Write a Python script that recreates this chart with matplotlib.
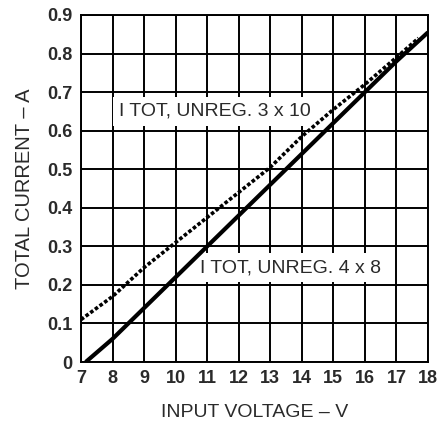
import matplotlib.pyplot as plt

plt.rcParams['font.family'] = ['Liberation Sans', 'DejaVu Sans']

# curve data
v_4x8 = [7.15, 8, 9, 10, 11, 12, 13, 14, 15, 16, 17, 18]
i_4x8 = [0.0, 0.06, 0.14, 0.22, 0.30, 0.38, 0.46, 0.54, 0.62, 0.70, 0.78, 0.855]
v_3x10 = [7, 8, 9, 10, 11, 12, 13, 14, 15, 16, 17, 17.7]
i_3x10 = [0.11, 0.17, 0.245, 0.31, 0.375, 0.44, 0.505, 0.585, 0.655, 0.72, 0.79, 0.84]

x_ticks = list(range(7, 19))
y_ticks = [0, 0.1, 0.2, 0.3, 0.4, 0.5, 0.6, 0.7, 0.8, 0.9]
y_tick_labels = ['0', '0.1', '0.2', '0.3', '0.4', '0.5', '0.6', '0.7', '0.8', '0.9']

fig = plt.figure(figsize=(4.46, 4.26), dpi=100)
ax = fig.add_axes([0.1816, 0.1502, 0.778, 0.8146])

# grid drawn as plain lines so the label boxes can sit on top of it
ax.vlines(x_ticks, 0, 0.9, color='black', lw=1.4, zorder=1)
ax.hlines(y_ticks, 7, 18, color='black', lw=1.4, zorder=1)

ax.plot(v_4x8, i_4x8, color='black', lw=3.0, solid_capstyle='butt', zorder=5)
ax.plot(v_3x10, i_3x10, color='black', lw=2.6, linestyle=(0, (1.0, 0.6)), zorder=5)

box = dict(facecolor='white', edgecolor='none', pad=4)
ax.text(8.2, 0.65, 'I TOT, UNREG. 3 x 10', fontsize=14, color='#2a2a2a',
        va='center', bbox=box, zorder=4)
ax.text(10.78, 0.245, 'I TOT, UNREG. 4 x 8', fontsize=14, color='#2a2a2a',
        va='center', bbox=box, zorder=4)

ax.set_xlim(7, 18)
ax.set_ylim(0, 0.9)
ax.set_xticks(x_ticks)
ax.set_yticks(y_ticks)
ax.set_yticklabels(y_tick_labels)
ax.tick_params(length=0, labelsize=13, labelcolor='#2a2a2a', pad=6)
for lab in ax.get_xticklabels() + ax.get_yticklabels():
    lab.set_fontweight('bold')
for s in ax.spines.values():
    s.set_linewidth(1.4)
    s.set_zorder(6)

ax.set_xlabel('INPUT VOLTAGE – V', fontsize=14, color='#2a2a2a', labelpad=12)
ax.set_ylabel('TOTAL CURRENT – A', fontsize=14.5, color='#2a2a2a', labelpad=10)

fig.savefig('out.png', dpi=100)
